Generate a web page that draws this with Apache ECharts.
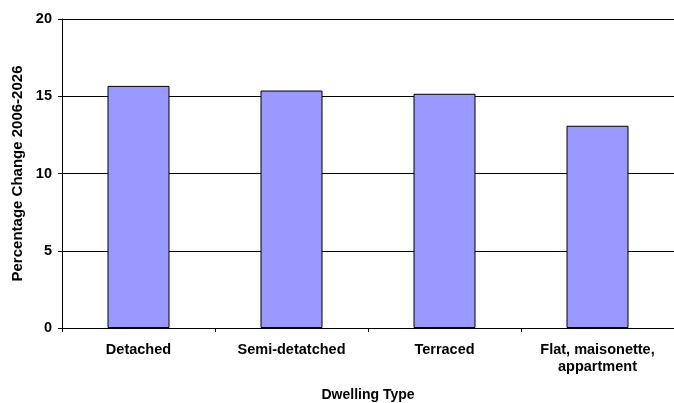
<!DOCTYPE html>
<html><head><meta charset="utf-8">
<script src="https://cdn.jsdelivr.net/npm/echarts@6/dist/echarts.min.js"></script>
<style>html,body{margin:0;padding:0;background:#fff}#c{width:674px;height:403px}</style>
</head><body><div id="c"></div>
<script>
const categories = ["Detached", "Semi-detatched", "Terraced", "Flat, maisonette,\nappartment"];
const values = [15.67, 15.37, 15.16, 13.09];
const yTicks = [0, 5, 10, 15, 20];
const xTitle = "Dwelling Type";
const yTitle = "Percentage Change 2006-2026";

const chart = echarts.init(document.getElementById('c'));
const font = '"Liberation Sans", Arial, sans-serif';
chart.setOption({
  animation: false,
  grid: { left: 62, right: 0, top: 19, bottom: 75, containLabel: false, outerBoundsMode: 'none' },
  xAxis: {
    type: 'category', data: categories,
    name: xTitle, nameLocation: 'middle', nameGap: 60,
    nameTextStyle: { fontFamily: font, fontWeight: 'bold', fontSize: 14, color: '#000' },
    axisLine: { lineStyle: { color: '#000', width: 1 } },
    axisTick: { show: true, length: 4, lineStyle: { color: '#000' } },
    axisLabel: { fontFamily: font, fontWeight: 'bold', fontSize: 14.5, color: '#000', margin: 13, lineHeight: 17, interval: 0 }
  },
  yAxis: {
    type: 'value', min: yTicks[0], max: yTicks[yTicks.length - 1], interval: 5,
    name: yTitle, nameLocation: 'middle', nameGap: 36,
    nameTextStyle: { fontFamily: font, fontWeight: 'bold', fontSize: 15, color: '#000' },
    axisLine: { show: true, lineStyle: { color: '#000', width: 1 } },
    axisTick: { show: true, length: 4, lineStyle: { color: '#000' } },
    axisLabel: { fontFamily: font, fontWeight: 'bold', fontSize: 14.5, color: '#000', margin: 10 },
    splitLine: { show: true, lineStyle: { color: '#000', width: 1 } }
  },
  series: [{
    type: 'bar', data: values, barWidth: 62,
    itemStyle: { color: '#9999FF', borderColor: '#000', borderWidth: 1 }
  }]
});
</script></body></html>
